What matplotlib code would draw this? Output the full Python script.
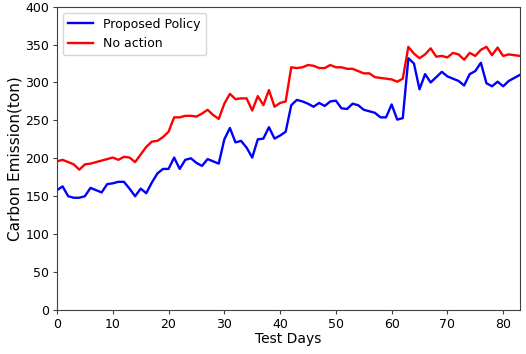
import matplotlib
matplotlib.use("Agg")
import matplotlib.pyplot as plt

# daily carbon emission (ton), days 0..83
proposed = [158, 163, 150, 148, 148, 150, 161, 158, 155, 166,
            167, 169, 169, 160, 150, 160, 154, 168, 180, 186,
            186, 201, 186, 198, 200, 194, 190, 199, 196, 193,
            225, 240, 221, 223, 214, 201, 225, 226, 241, 226,
            230, 235, 270, 277, 275, 272, 268, 273, 269, 275,
            276, 266, 265, 272, 270, 264, 262, 260, 254, 254,
            271, 251, 253, 332, 325, 291, 311, 300, 307, 314,
            308, 305, 302, 296, 311, 315, 326, 299, 295, 301,
            295, 302, 306, 310]
no_action = [196, 198, 195, 192, 185, 192, 193, 195, 197, 199,
             201, 198, 202, 201, 195, 205, 215, 222, 223, 228,
             235, 254, 254, 256, 256, 255, 259, 264, 257, 252,
             272, 285, 278, 279, 279, 263, 282, 270, 290, 268,
             273, 275, 320, 319, 320, 323, 322, 319, 319, 323,
             320, 320, 318, 318, 315, 312, 312, 307, 306, 305,
             304, 301, 305, 347, 338, 332, 337, 345, 334, 335,
             333, 339, 337, 330, 339, 335, 343, 347, 336, 346,
             335, 337, 336, 335]
days = list(range(len(proposed)))

plt.rcParams["font.size"] = 9

fig = plt.figure(figsize=(5.26, 3.54), dpi=100)
ax = fig.add_axes([0.1084, 0.1243, 0.880, 0.857])

ax.plot(days, proposed, color="blue", linewidth=1.7, label="Proposed Policy")
ax.plot(days, no_action, color="red", linewidth=1.7, label="No action")

ax.set_xlim(0, 83)
ax.set_ylim(0, 400)
ax.set_xticks(range(0, 81, 10))
ax.set_yticks(range(0, 401, 50))
ax.tick_params(length=3, pad=2.5, color="#404040")
for s in ax.spines.values():
    s.set_color("#404040")
ax.set_xlabel("Test Days", fontsize=10, labelpad=1)
ax.set_ylabel("Carbon Emission(ton)", fontsize=11, labelpad=2)
ax.legend(loc="upper left", borderaxespad=0.5)

fig.savefig("out.png", dpi=100)
